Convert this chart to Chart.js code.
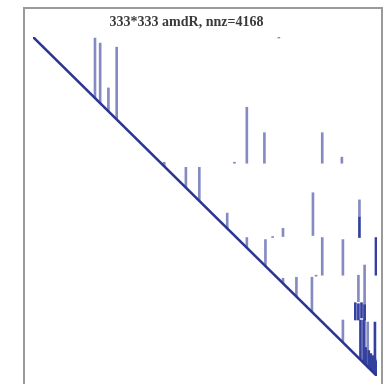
<!DOCTYPE html>
<html>
<head>
<meta charset="utf-8">
<script src="https://cdn.jsdelivr.net/npm/chart.js@4.4.1/dist/chart.umd.min.js"></script>
<style>
  html, body { margin: 0; padding: 0; background: #fff; overflow: hidden; }
  #frame { position: absolute; left: 23px; top: 7px; width: 356px; height: 390px; border: 2px solid #9a9a9a; }
  #wrap { position: absolute; left: -10px; top: 0; width: 393px; height: 384px; }
</style>
</head>
<body>
<div id="frame"></div>
<div id="wrap"><canvas id="c" width="393" height="384"></canvas></div>
<script>
const matrixSize = 333;
const titleText = '333*333 amdR, nnz=4168';

// light (sparse) column segments: column index, first row, last row
const lightCol    = [60, 65, 73, 81, 127, 148, 161, 188, 207, 207, 224, 225, 280, 280, 299, 271, 270, 316, 242, 242, 255, 300, 300, 321, 315, 324, 238, 195, 232, 274];
const lightTop    = [ 1,  6, 50, 10, 123, 128, 128, 173,  69, 197,  94, 199,  94, 197, 118, 153, 236, 160, 188, 237, 236, 199, 278, 224, 234, 280,   0, 123, 196, 234];
const lightBottom = [60, 65, 73, 81, 127, 148, 161, 188, 124, 207, 124, 225, 124, 234, 124, 195, 270, 177, 196, 242, 255, 234, 300, 321, 260, 324,   1, 124, 197, 235];

// dense (dark) column segments
const darkCol    = [316, 332, 312, 315, 318, 321, 317, 320, 331, 322, 325, 327, 329, 331, 333];
const darkTop    = [177, 197, 261, 262, 261, 263, 278, 278, 280, 305, 308, 311, 313, 316, 318];
const darkBottom = [197, 234, 278, 278, 276, 278, 317, 320, 331, 322, 325, 327, 329, 331, 333];

// main diagonal
const diagIdx = [0, matrixSize];

const toSegs = (cols, tops, bots) => cols.map((c, i) => ({ x: c, y: [tops[i], bots[i]] }));

new Chart(document.getElementById('c'), {
  type: 'bar',
  data: {
    datasets: [
      {
        type: 'line',
        data: diagIdx.map(v => ({ x: v, y: v })),
        borderColor: '#2b3592',
        borderWidth: 2.6,
        pointRadius: 0,
        order: 0
      },
      {
        data: toSegs(lightCol, lightTop, lightBottom),
        backgroundColor: '#858bc2',
        barThickness: 2,
        grouped: false,
        order: 2
      },
      {
        data: toSegs(darkCol, darkTop, darkBottom),
        backgroundColor: '#34409f',
        barThickness: 2,
        grouped: false,
        order: 1
      }
    ]
  },
  options: {
    responsive: false,
    animation: false,
    layout: { padding: { top: 0, bottom: 8, left: 0, right: 0 } },
    plugins: {
      legend: { display: false },
      tooltip: { enabled: false },
      title: {
        display: true,
        text: titleText,
        color: '#3a3a3a',
        font: { family: 'Liberation Serif', size: 14, weight: 'bold' },
        padding: { top: 14, bottom: 6.2 }
      }
    },
    scales: {
      x: {
        type: 'linear',
        min: 0,
        max: matrixSize,
        offset: false,
        display: false
      },
      y: {
        type: 'linear',
        reverse: true,
        min: 0,
        max: matrixSize,
        position: 'left',
        display: true,
        ticks: { display: false },
        grid: { display: false },
        border: { display: false },
        afterFit: s => { s.width = 43; }
      },
      y2: {
        type: 'linear',
        position: 'right',
        display: true,
        ticks: { display: false },
        grid: { display: false },
        border: { display: false },
        afterFit: s => { s.width = 6; }
      }
    }
  }
});
</script>
</body>
</html>
